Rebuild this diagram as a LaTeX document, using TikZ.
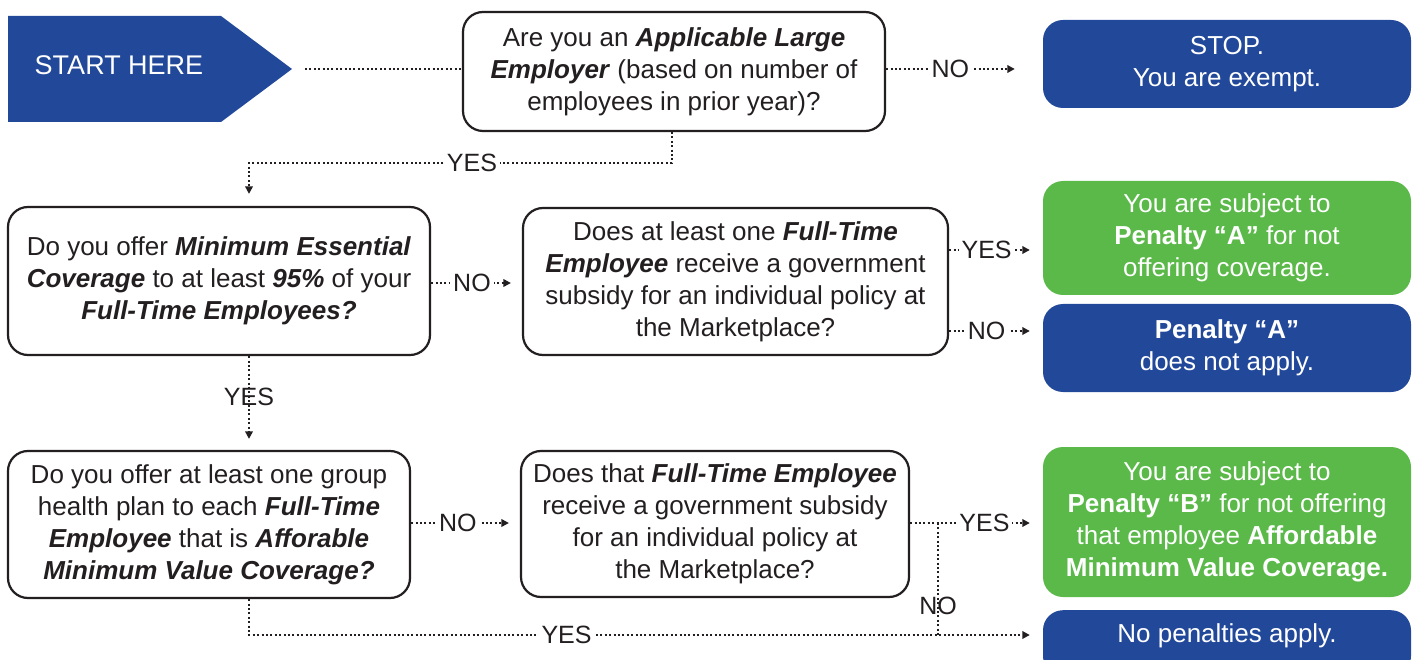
\documentclass[tikz,border=0pt]{standalone}
\usepackage{fontspec}
\setmainfont{Liberation Sans}
\usetikzlibrary{arrows.meta,calc}
\definecolor{navy}{HTML}{22489A}
\definecolor{leaf}{HTML}{5BB94A}
\definecolor{ink}{HTML}{231F20}
\newcommand\qfont{\fontsize{26}{32}\selectfont}
\newcommand\tagfont{\fontsize{25}{28}\selectfont}
\newcommand\bix[1]{\textbf{\textit{#1}}}
\begin{document}
\begin{tikzpicture}[x=1pt,y=-1pt,
  question/.style={draw=ink, line width=2.2pt, rounded corners=20pt, fill=white,
    align=center, font=\qfont, text=ink, inner sep=0pt},
  outcome/.style={rounded corners=20pt, align=center, font=\qfont, text=white,
    inner sep=0pt, minimum width=368pt},
  bluebox/.style={outcome, fill=navy},
  greenbox/.style={outcome, fill=leaf},
  flow/.style={draw=ink, line width=2pt, dash pattern=on 2pt off 2.4pt},
  flowarrow/.style={flow, -{Triangle[length=7.5pt,width=7.5pt]}},
  tag/.style={fill=white, font=\tagfont, text=ink, inner xsep=3pt, inner ysep=1pt},
  plaintag/.style={font=\tagfont, text=ink, inner sep=0pt}
]
\useasboundingbox (0,0) rectangle (1416,660);
\clip (0,0) rectangle (1416,660);
\fill[white] (0,0) rectangle (1416,660);

% start banner
\fill[navy] (8,16) -- (221,16) -- (292,69) -- (221,122) -- (8,122) -- cycle;
\node[font=\fontsize{27}{30}\selectfont, text=white] (start) at (119,65) {START HERE};
\coordinate (tip) at (292,69);

% questions
\node[question, minimum width=422pt, minimum height=119pt] (ale) at (674,71.5)
  {Are you an \bix{Applicable Large}\\ \bix{Employer} (based on number of\\ employees in prior year)?};
\node[question, minimum width=422pt, minimum height=148pt] (mec) at (219,281)
  {Do you offer \bix{Minimum Essential}\\ \bix{Coverage} to at least \bix{95\%} of your\\ \bix{Full-Time Employees?}};
\node[question, minimum width=425pt, minimum height=147pt] (subA) at (735.5,281.5)
  {Does at least one \bix{Full-Time}\\ \bix{Employee} receive a government\\ subsidy for an individual policy at\\ the Marketplace?};
\node[question, minimum width=402pt, minimum height=147pt] (amv) at (209,524.5)
  {Do you offer at least one group\\ health plan to each \bix{Full-Time}\\ \bix{Employee} that is \bix{Afforable}\\ \bix{Minimum Value Coverage?}};
\node[question, minimum width=388pt, minimum height=146pt] (subB) at (715,524)
  {Does that \bix{Full-Time Employee}\\ receive a government subsidy\\ for an individual policy at\\ the Marketplace?};

% outcomes
\node[bluebox, minimum height=88pt] (stop) at (1227,64) {STOP.\\ You are exempt.};
\node[greenbox, minimum height=114pt] (penA) at (1227,238)
  {You are subject to\\ \textbf{Penalty “A”} for not\\ offering coverage.};
\node[bluebox, minimum height=88pt] (noA) at (1227,348) {\textbf{Penalty “A”}\\ does not apply.};
\node[greenbox, minimum height=150pt] (penB) at (1227,522)
  {You are subject to\\ \textbf{Penalty “B”} for not offering\\ that employee \textbf{Affordable}\\ \textbf{Minimum Value Coverage.}};
\node[bluebox, minimum height=66pt, anchor=north] (nopen) at (1227,610) {};
\node[font=\qfont, text=white] (nopentext) at (1227,636) {No penalties apply.};

% connectors
\draw[flow, shorten <=13pt] (tip) -- (tip -| ale.west);
\draw[flowarrow, shorten >=28pt] (ale.east |- 0,69) -- node[tag, pos=.41]{NO} (stop.west |- 0,69);
\draw[flowarrow, shorten >=12pt] (ale.south -| 672,0) -- (672,163)
  -- node[tag, pos=.473]{YES} (249,163) -- (mec.north -| 249,0);
\draw[flowarrow, shorten >=11pt] (mec.east |- 0,283) -- node[tag, pos=.45]{NO} (subA.west |- 0,283);
\draw[flowarrow, shorten >=13pt] (subA.east |- 0,250) -- node[tag, pos=.4]{YES} (penA.west |- 0,250);
\draw[flowarrow, shorten >=13pt] (subA.east |- 0,331) -- node[tag, pos=.4]{NO} (noA.west |- 0,331);
\draw[flowarrow, shorten >=11pt] (mec.south -| 249,0) -- node[plaintag, pos=.44]{YES} (amv.north -| 249,0);
\draw[flowarrow, shorten >=11pt] (amv.east |- 0,523) -- node[tag, pos=.43]{NO} (subB.west |- 0,523);
\draw[flowarrow, shorten >=13pt] (subB.east |- 0,523) -- node[tag, pos=.56]{YES} (penB.west |- 0,523);
\coordinate (fork) at (938,523);
\draw[flow] (fork) -- node[plaintag, pos=.74]{NO} (938,635);
\draw[flowarrow, shorten >=13pt] (amv.south -| 249,0) -- (249,635)
  -- node[tag, pos=.40]{YES} (nopen.west |- 0,635);
\end{tikzpicture}
\end{document}
